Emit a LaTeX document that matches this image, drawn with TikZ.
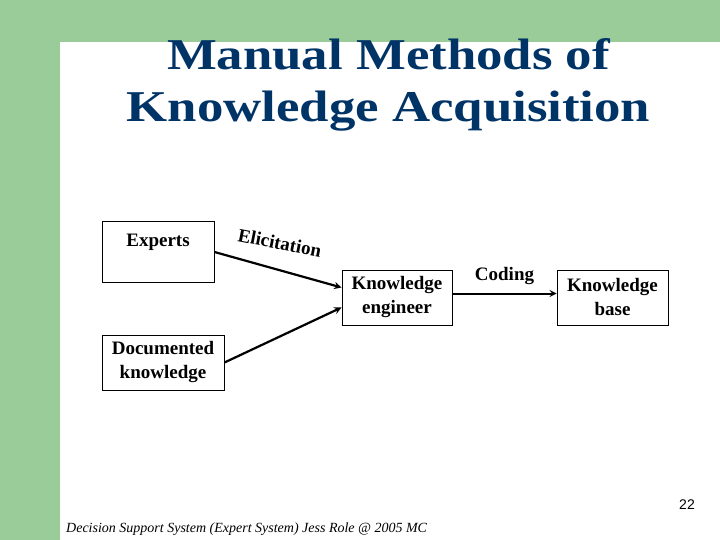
\documentclass[tikz,border=0pt]{standalone}
\usepackage{fontspec}
\setmainfont{Liberation Serif}
\newfontfamily\titlefont[FakeStretch=1.2]{Liberation Serif}
\newfontfamily\numfont{Liberation Sans}
\usetikzlibrary{arrows,positioning}
\definecolor{slidegreen}{RGB}{153,204,153}
\definecolor{titleblue}{RGB}{0,51,102}

\begin{document}
\begin{tikzpicture}[x=1pt, y=-1pt,
    box/.style={rectangle, draw=black, line width=1pt, align=center, inner sep=0pt, font=\fontsize{19}{24}\selectfont\bfseries},
    title/.style={titleblue, anchor=base, inner sep=0pt, font=\titlefont\fontsize{44}{50}\selectfont\bfseries},
    label/.style={inner sep=2pt, font=\fontsize{19}{24}\selectfont\bfseries},
    arrow/.style={line width=2.2pt, ->, >=stealth},
    thin_arrow/.style={line width=2pt, ->, >=stealth}
]
\useasboundingbox (0,0) rectangle (720,540);

% Slide background
\fill[slidegreen] (0,0) rectangle (720,540);
\fill[white] (60,42) rectangle (720,540);

% Title
\node[title] (title1) at (388.5, 70) {Manual Methods of};
\node[title] (title2) at (388.5, 122) {Knowledge Acquisition};

% Sources
\node[box, minimum width=112, minimum height=60] (experts) at (158, 252) {Experts\\\mbox{}};
\node[box, minimum width=122, minimum height=55] (documented) at (163, 362.5) {Documented\\knowledge};

% Engineer and base
\node[box, minimum width=110, minimum height=55] (engineer) at (397, 297.5) {Knowledge\\engineer};
\node[box, minimum width=111, minimum height=55] (kbase) at (612.5, 297.5) {Knowledge\\base};

% Connections
\draw[arrow] (experts.east) -- node[label, rotate=-11, above=17pt] {Elicitation} ([yshift=10pt]engineer.west);
\draw[arrow] (documented.east) -- ([yshift=-10pt]engineer.west);
\draw[thin_arrow] ([yshift=4pt]engineer.east) -- node[label, above=6pt] {Coding} ([yshift=4pt]kbase.west);

% Footer
\node[anchor=base west, inner sep=0pt, font=\fontsize{14}{16}\selectfont\itshape] (footer) at (66, 532) {Decision Support System (Expert System) Jess Role @ 2005 MC};
\node[anchor=base east, inner sep=0pt, font=\numfont\fontsize{14}{16}\selectfont] (pagenum) at (695, 509) {22};

\end{tikzpicture}
\end{document}
